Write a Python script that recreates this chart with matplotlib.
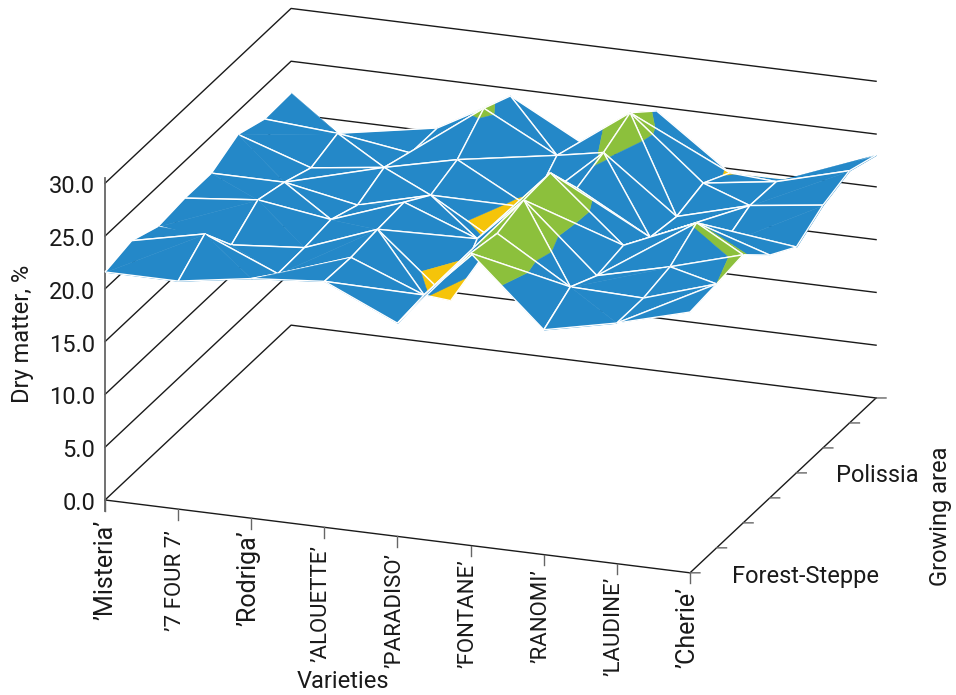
import matplotlib
matplotlib.use("Agg")
import numpy as np
import matplotlib.pyplot as plt
from mpl_toolkits.mplot3d import proj3d
from mpl_toolkits.mplot3d.art3d import Poly3DCollection, Line3DCollection

plt.rcParams['font.family'] = ['Roboto', 'DejaVu Sans']

varieties = ["’Misteria’", "’7 FOUR 7’", "’Rodriga’", "’ALOUETTE’", "’PARADISO’",
             "’FONTANE’", "’RANOMI’", "’LAUDINE’", "’Cherie’"]
z_ticks = [0, 5, 10, 15, 20, 25, 30]

# dry matter, one list per step along the growing area axis (front to back)
row0 = [21.6, 21.6, 22.7, 23.3, 20.2, 27.7, 21.3, 22.8, 24.7]
row1 = [22.2, 23.7, 20.8, 23.2, 20.5, 27.2, 23.0, 22.8, 25.0]
row2 = [21.2, 20.3, 20.9, 23.5, 17.6, 28.0, 21.7, 23.4, 25.4]
row3 = [21.5, 22.2, 21.2, 23.7, 21.1, 28.2, 22.2, 25.2, 23.0]
row4 = [21.5, 21.5, 20.2, 22.0, 18.0, 24.4, 20.6, 20.8, 21.4]
row5 = [22.8, 20.5, 21.4, 23.0, 19.3, 25.4, 20.2, 22.1, 23.0]
row6 = [21.9, 21.4, 20.4, 25.5, 21.9, 26.8, 21.0, 22.0, 23.9]
row7 = [22.0, 16.7, 20.4, 24.3, 20.6, 24.6, 19.6, 19.7, 23.0]

band_edges = [15, 20, 25, 30]
band_colors = ['#f5c40a', '#2488c8', '#8cc03c']

# cells (column: rows) where the reference shows no inner line
no_inner_line = {0: range(7), 1: [0, 1, 2], 2: [0, 1, 2, 3], 6: [0, 1], 7: [4, 5, 6]}
# cells (column, row) that fold along the lower diagonal
valley_cells = [(1, 1)]

# how far each variety label starts below the axis, in pixels
label_drop = [20, 21, 12, 18, 17, 14, 15, 13, 14]

Z = np.array([row0, row1, row2, row3, row4, row5, row6, row7])
n_rows, n_cols = Z.shape


def clip(poly, level, keep_above):
    # cut a polygon with a horizontal plane
    out = []
    for k in range(len(poly)):
        a, b = poly[k], poly[(k + 1) % len(poly)]
        a_in = (a[2] >= level) == keep_above
        b_in = (b[2] >= level) == keep_above
        if a_in:
            out.append(a)
        if a_in != b_in:
            t = (level - a[2]) / (b[2] - a[2])
            out.append(tuple(a[m] + t * (b[m] - a[m]) for m in range(3)))
    return out


def add_triangle(tri, inner, show_inner, order):
    polys, colors = [], []
    for b, col in enumerate(band_colors):
        piece = clip(clip(tri, band_edges[b], True), band_edges[b + 1], False)
        if len(piece) >= 3:
            polys.append(piece)
            colors.append(col)
    surf = Poly3DCollection(polys, facecolors=colors, edgecolors=colors, linewidths=0.3, zorder=order)
    ax.add_collection3d(surf, autolim=False)
    segs = []
    for k in range(3):
        a, b = tri[k], tri[(k + 1) % 3]
        if show_inner or {a, b} != set(inner):
            segs.append((a, b))
    mesh = Line3DCollection(segs, colors='white', linewidths=1.0, zorder=order + 1)
    ax.add_collection3d(mesh, autolim=False)


W, H = 956, 695
fig = plt.figure(figsize=(W / 100, H / 100), dpi=100)
ax = fig.add_axes([0, 0, 1, 1], projection='3d', proj_type='ortho', computed_zorder=False)
ax.view_init(elev=20, azim=-70)
ax.set_box_aspect((622.5, 544, 337))
ax.set_xlim(0, 8)
ax.set_ylim(0, 7)
ax.set_zlim(0, 30)
ax.set_xticks([])
ax.set_yticks([])
ax.set_zticks([])
ax.set_axis_off()


def frac(x, y, z):
    xs, ys, _ = proj3d.proj_transform(x, y, z, ax.get_proj())
    return ax.transLimits.transform((xs, ys))


# put the floor corners on the same pixels as the reference
u0, v0 = frac(0, 0, 0)
u1, v1 = frac(8, 0, 0)
side = 585 / (u1 - u0)
ax.set_position([(105 - side * u0) / W, (H - 500 - side * v0) / H, side / W, side / H])


def label(x, y, z, text, dx=0, dy=0, **kw):
    # text next to a data point, shifted by some pixels
    u, v = frac(x, y, z)
    ax.text2D(u + dx / side, v + dy / side, text, transform=ax.transAxes, color=black, **kw)


# walls and floor
black = '#1a1a1a'
grey = '#666666'
fs = 17
z_per_px = 30 / 317
for z in z_ticks:
    ax.plot([0, 0, 8], [0, 7, 7], [z, z, z], color=black, lw=1.0, zorder=1)
ax.plot([0, 8, 8], [0, 0, 7], [0, 0, 0], color=black, lw=1.0, zorder=1)
ax.plot([0, 0], [0, 0], [-1.0, 30.5], color=grey, lw=1.3, zorder=1)

# x ticks go straight down, y ticks go flat to the right on screen
for i, name in enumerate(varieties):
    ax.plot([i, i], [0, 0], [0, -1.0], color=grey, lw=1.0, zorder=1)
    label(i, 0, -label_drop[i] * z_per_px, name, dx=-3 if i else 0, rotation=90,
          ha='center', va='top', fontsize=16 if name.isupper() else 18)
for j in range(n_rows):
    ax.plot([8, 8 + 0.12], [j, j + 0.044], [0, 0], color=grey, lw=1.0, zorder=1)
for z in z_ticks:
    label(0, 0, z, f"{z:.1f}", dx=-10, dy=-3.5, ha='right', va='center', fontsize=fs)

# back to front so nearer cells cover farther ones
order = 10
for j in range(n_rows - 2, -1, -1):
    for i in range(n_cols - 1):
        p00 = (i, j, Z[j, i])
        p10 = (i + 1, j, Z[j, i + 1])
        p01 = (i, j + 1, Z[j + 1, i])
        p11 = (i + 1, j + 1, Z[j + 1, i + 1])
        show_inner = j not in no_inner_line.get(i, [])
        # the cell folds along the higher of its two diagonals, far triangle first
        ridge_main = p00[2] + p11[2] >= p10[2] + p01[2]
        if (i, j) in valley_cells:
            ridge_main = not ridge_main
        if ridge_main:
            inner = (p00, p11)
            tris = [[p00, p11, p01], [p00, p10, p11]]
        else:
            inner = (p10, p01)
            tris = [[p10, p11, p01], [p00, p10, p01]]
        for tri in tris:
            add_triangle(tri, inner, show_inner, order)
            order += 2

fig.text(343 / W, 1 - 681 / H, "Varieties", ha='center', va='center', fontsize=fs, color=black)
fig.text(23 / W, 1 - 334 / H, "Dry matter, %", ha='center', va='center', rotation=90, fontsize=fs, color=black)
fig.text(941 / W, 1 - 516 / H, "Growing area", ha='center', va='center', rotation=90, fontsize=fs, color=black)
fig.text(805 / W, 1 - 576 / H, "Forest-Steppe", ha='center', va='center', fontsize=fs, color=black)
fig.text(877 / W, 1 - 475 / H, "Polissia", ha='center', va='center', fontsize=fs, color=black)

fig.savefig("out.png", dpi=100)
